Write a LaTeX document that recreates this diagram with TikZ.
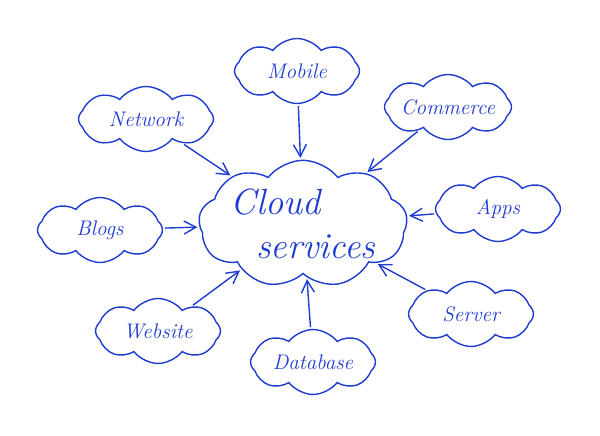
\documentclass[tikz,border=0pt]{standalone}
\usepackage{tikz}
\usetikzlibrary{arrows.meta,shapes.symbols}
\definecolor{pen}{HTML}{1E3CD2}
\tikzset{
  sat/.style={cloud,cloud puffs=8,cloud puff arc=105,cloud ignores aspect,draw=pen,fill=white,thick,
              minimum width=2.5cm,minimum height=1.3cm,inner sep=0pt,
              text=pen,font=\large\itshape},
  hub/.style={sat,cloud puffs=9,minimum width=3.5cm,minimum height=2.4cm,font=\huge\itshape,align=left},
  link/.style={-{Straight Barb[length=2.4mm,width=2.6mm]},thick,draw=pen,shorten >=1pt,shorten <=1pt},
}
\begin{document}
\begin{tikzpicture}[x=0.02cm,y=-0.02cm]
  \useasboundingbox (0,0) rectangle (600,436);
  \node[hub] (cs) at (303,224) {Cloud\\ \ \ services};
  \node[sat] (mob) at (297,71) {Mobile};
  \node[sat,minimum width=2.7cm] (net) at (146,119) {Network};
  \node[sat] (com) at (448,107) {Commerce};
  \node[sat] (app) at (498,209) {Apps};
  \node[sat] (blg) at (100,230) {Blogs};
  \node[sat] (srv) at (471,314) {Server};
  \node[sat] (web) at (158,331) {Website};
  \node[sat] (dbs) at (313,362) {Database};
  % links into the hub
  \draw[link] (mob) -- (cs);
  \draw[link] (net) -- (cs);
  \draw[link] (com) -- (cs);
  \draw[link] (app) -- (cs);
  \draw[link] (blg) -- (cs);
  \draw[link] (srv) -- (cs);
  \draw[link] (web) -- (cs);
  \draw[link] (dbs) -- (cs);
\end{tikzpicture}
\end{document}
